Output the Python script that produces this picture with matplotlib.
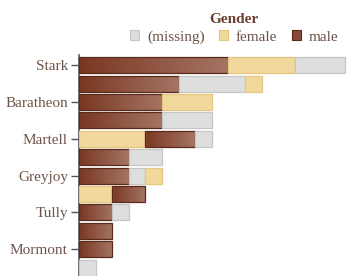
import matplotlib
matplotlib.use('Agg')
import matplotlib.pyplot as plt
import numpy as np
from matplotlib.colors import LinearSegmentedColormap
from matplotlib.patches import Patch

plt.rcParams['font.family'] = ['Liberation Serif', 'DejaVu Serif']

# data: one row per house (only every other row is labelled in the original)
labels = ['Stark', '', 'Baratheon', '', 'Martell', '', 'Greyjoy', '', 'Tully', '', 'Mormont', '']
genders = ['(missing)', 'female', 'male']
missing = [3, 4, 0, 3, 1, 2, 1, 0, 1, 0, 0, 1]
female = [4, 1, 3, 0, 4, 0, 1, 2, 0, 0, 0, 0]
male = [9, 6, 5, 5, 3, 3, 3, 2, 2, 2, 2, 0]

face = {'(missing)': '#dedede', 'female': '#f1d89c', 'male': '#8a4a32'}
edge = {'(missing)': '#c6c6c6', 'female': '#e6c77f', 'male': '#5a2a1a'}
male_cmap = LinearSegmentedColormap.from_list('m', ['#7a3822', '#a47464'])
text_col = '#6e5448'

fig = plt.figure(figsize=(3.49, 2.76), dpi=100)
ax = fig.add_axes([79 / 349, 0, 269 / 349, 221 / 276])

values = {'(missing)': missing, 'female': female, 'male': male}
grad = np.linspace(0, 1, 64).reshape(1, -1)
for i in range(len(labels)):
    segs = [(g, values[g][i]) for g in genders if values[g][i] > 0]
    segs.sort(key=lambda s: (-s[1], genders.index(s[0])))
    left = 0
    for g, v in segs:
        bars = ax.barh(i, v, left=left, height=0.87, color=face[g],
                       edgecolor=edge[g], linewidth=0.9, zorder=3)
        if g == 'male':
            rect = bars[0]
            rect.set_facecolor('none')
            im = ax.imshow(grad, cmap=male_cmap, aspect='auto',
                           extent=(left, left + v, i + 0.435, i - 0.435),
                           zorder=2)
            im.set_clip_path(rect)
        left += v

ax.set_xlim(0, 16.2)
ax.set_ylim(11.46, -0.55)

shown = [i for i, l in enumerate(labels) if l]
ax.set_yticks(shown)
ax.set_yticklabels([labels[i] for i in shown], fontsize=11, color=text_col)
ax.tick_params(axis='y', length=6, width=1, color='#555555', pad=2)
ax.set_xticks([])
for s in ['top', 'right', 'bottom']:
    ax.spines[s].set_visible(False)
ax.spines['left'].set_color('#555555')
ax.spines['left'].set_linewidth(1.2)

handles = [Patch(facecolor=face[g] if g != 'male' else '#884a36',
                 edgecolor=edge[g], linewidth=0.8) for g in genders]
leg = fig.legend(handles, genders, loc='upper right', bbox_to_anchor=(1.0, 0.99),
                 ncol=3, frameon=False, fontsize=11, title='Gender',
                 title_fontproperties={'weight': 'bold', 'size': 11},
                 handlelength=0.6, handleheight=0.6, handletextpad=0.5,
                 columnspacing=0.95, borderpad=0.2, labelspacing=0.25)
leg.get_title().set_color('#6b3f2e')
for t in leg.get_texts():
    t.set_color(text_col)

fig.savefig('out.png', dpi=100)
